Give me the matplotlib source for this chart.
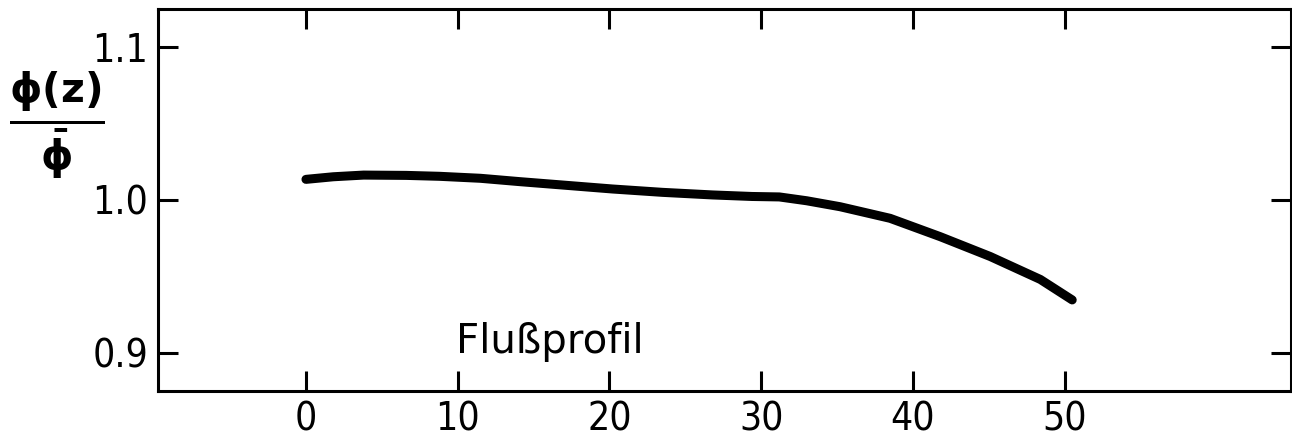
import numpy as np
import matplotlib.pyplot as plt

# axial flux profile phi(z)/phi_mean
z = [0.0, 1.8, 3.8, 6.6, 8.8, 11.5, 14.1, 16.9, 20.2, 23.5, 26.8, 29.4,
     31.2, 33.0, 35.2, 38.5, 41.8, 45.1, 48.4, 50.5]
flux = [1.0135, 1.0152, 1.0163, 1.0161, 1.0155, 1.0142, 1.0120, 1.0098,
        1.0072, 1.0050, 1.0033, 1.0023, 1.0020, 0.9995, 0.9956, 0.9880,
        0.9760, 0.9630, 0.9480, 0.9346]

xticks = [0, 10, 20, 30, 40, 50]
yticks = [0.9, 1.0, 1.1]
ytick_labels = ['0.9', '1.0', '1.1']

plt.rcParams['font.family'] = ['DejaVu Sans']
plt.rcParams['mathtext.fontset'] = 'dejavusans'

fig = plt.figure(figsize=(12.92, 4.38), dpi=100)
ax = fig.add_axes([0.1223, 0.1073, 0.8767, 0.8722])

ax.plot(z, flux, color='black', linewidth=6.5, solid_capstyle='round',
        solid_joinstyle='round')

ax.set_xlim(-9.75, 64.9)
ax.set_ylim(0.875, 1.125)

ax.set_xticks(xticks)
ax.set_yticks(yticks)
ax.set_yticklabels(ytick_labels)

for s in ax.spines.values():
    s.set_linewidth(2.2)

ax.tick_params(axis='both', direction='in', length=14.5, width=2.2,
               top=True, right=True, labelsize=28)
ax.tick_params(axis='x', pad=7)
ax.tick_params(axis='y', pad=7)
for lab in ax.get_xticklabels() + ax.get_yticklabels():
    lab.set_fontstretch('condensed')

ax.text(9.9, 0.907, 'Flußprofil', fontsize=29, va='center', ha='left')

ax.set_ylabel(r'$\mathbf{\frac{\phi(z)}{\bar{\phi}}}$', fontsize=42,
              rotation=0, va='center', ha='center')
ax.yaxis.set_label_coords(-0.089, 0.695)

fig.savefig('out.png', dpi=100)
